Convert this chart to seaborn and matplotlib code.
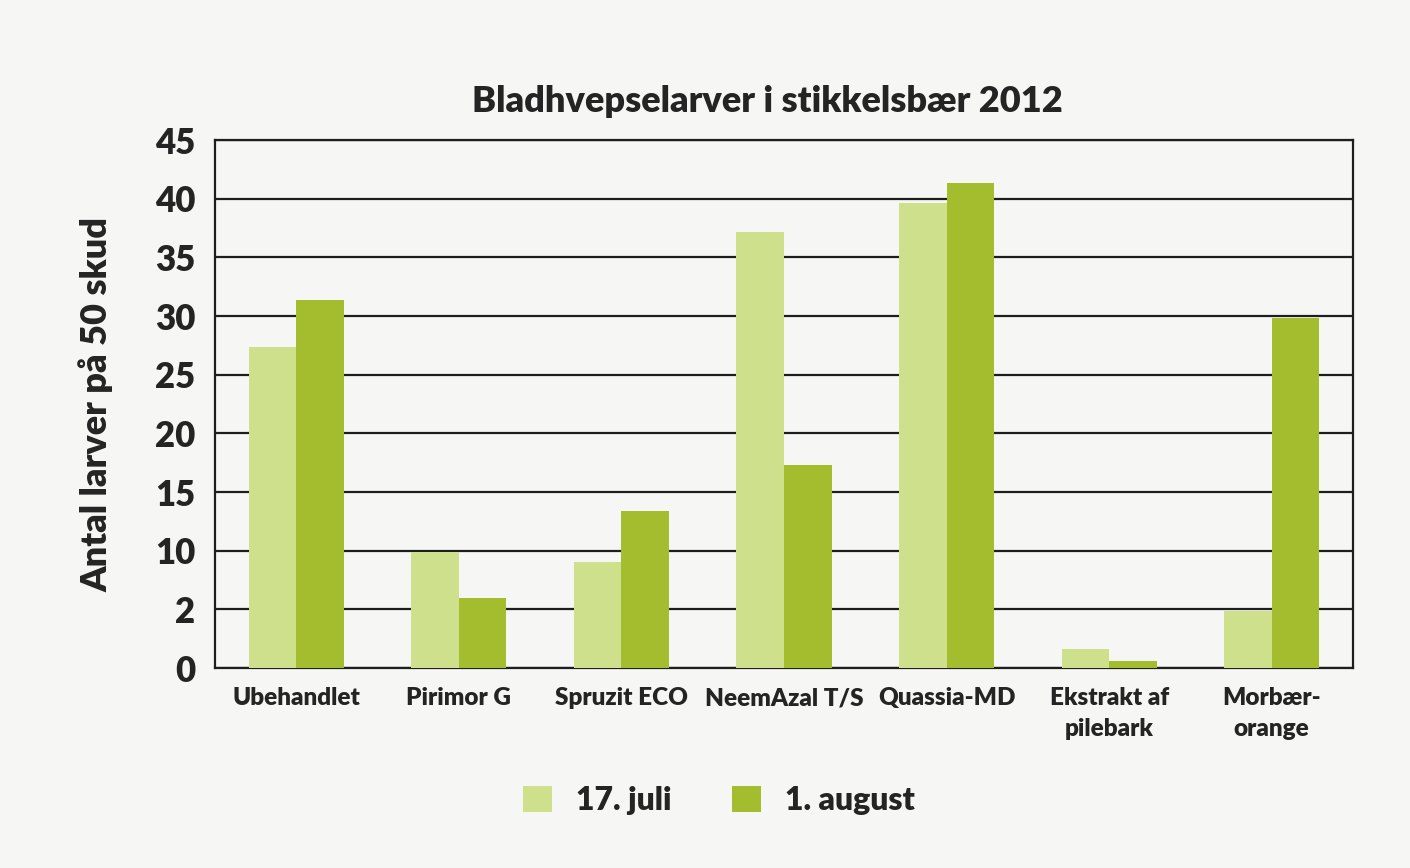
import matplotlib
matplotlib.use("Agg")
import matplotlib.pyplot as plt
import seaborn as sns
import pandas as pd
import numpy as np

categories = ["Ubehandlet", "Pirimor G", "Spruzit ECO", "NeemAzal T/S",
              "Quassia-MD", "Ekstrakt af\npilebark", "Morbær-\norange"]
juli_17 = [27.4, 9.9, 9.0, 37.2, 39.6, 1.6, 4.9]
august_1 = [31.4, 6.0, 13.4, 17.3, 41.3, 0.6, 29.8]
series_names = ["17. juli", "1. august"]
y_tick_values = [0, 5, 10, 15, 20, 25, 30, 35, 40, 45]
y_tick_labels = ["0", "2", "10", "15", "20", "25", "30", "35", "40", "45"]

df = pd.DataFrame({
    "Behandling": categories * 2,
    "Serie": [series_names[0]] * len(categories) + [series_names[1]] * len(categories),
    "Antal": juli_17 + august_1,
})

sns.set_theme(style="white")
plt.rcParams["font.family"] = ["Lato", "DejaVu Sans"]

bg = "#f6f6f4"
txt = "#242424"
fig = plt.figure(figsize=(14.1, 8.68), dpi=100, facecolor=bg)
ax = fig.add_axes([0.1525, 0.2304, 0.8071, 0.6083])
ax.set_facecolor(bg)

palette = {"17. juli": "#cfe08c", "1. august": "#a4bd2e"}
sns.barplot(data=df, x="Behandling", y="Antal", hue="Serie", palette=palette,
            width=0.585, gap=0, saturation=1, ax=ax, zorder=3, edgecolor="none")

ax.set_ylim(0, 45)
ax.set_xlim(-0.5, len(categories) - 0.5)
ax.set_yticks(y_tick_values)
ax.set_yticklabels(y_tick_labels, fontsize=25, fontweight="heavy", color=txt)
ax.yaxis.grid(True, color="#1e1e1e", linewidth=1.6, zorder=1)
ax.set_axisbelow(True)

ax.set_xticks(range(len(categories)))
ax.set_xticklabels(categories, fontsize=17.5, fontweight="heavy", color=txt,
                   linespacing=1.5)
ax.tick_params(axis="x", which="major", length=0, pad=14)
ax.set_xticks(np.arange(-0.5, len(categories) + 0.5, 1), minor=True)
ax.tick_params(axis="x", which="minor", length=7, width=1.5, color="#1e1e1e", direction="out")
ax.tick_params(axis="y", length=10, width=1.5, color="#1e1e1e", direction="out", pad=4)

for s in ax.spines.values():
    s.set_visible(True)
    s.set_color("#1e1e1e")
    s.set_linewidth(1.6)

ax.set_xlabel("")
ax.set_ylabel("Antal larver på 50 skud", fontsize=26, fontweight="heavy",
              color=txt, labelpad=30)
ax.set_title("Bladhvepselarver i stikkelsbær 2012", fontsize=26,
             fontweight="heavy", color=txt, pad=20, x=0.485)

leg = ax.legend(loc="center", bbox_to_anchor=(0.51, 0.078),
                bbox_transform=fig.transFigure, ncol=2, frameon=False,
                fontsize=23, handlelength=0.9, handleheight=0.9,
                columnspacing=1.9, handletextpad=0.75)
for t in leg.get_texts():
    t.set_fontweight("heavy")
    t.set_color(txt)

fig.savefig("out.png", dpi=100, facecolor=bg)
